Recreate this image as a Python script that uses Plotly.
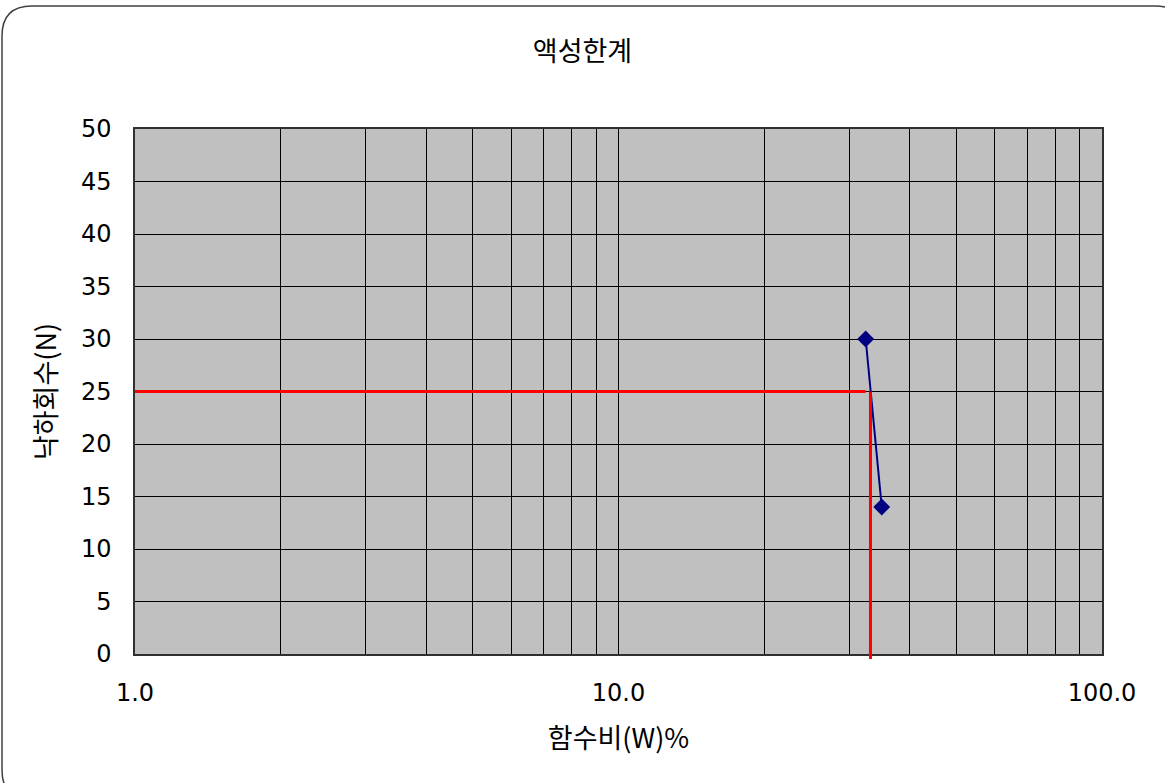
import plotly.graph_objects as go

# Data
water_content = [32.45, 35.03]   # 함수비 W (%)
blow_counts = [30, 14]           # 낙하회수 N
target_blows = 25
liquid_limit = 33.2
x_range_start = 1.0

x_tick_vals = [1, 10, 100]
x_tick_text = ["1.0", "10.0", "100.0"]
x_minor_vals = [2, 3, 4, 5, 6, 7, 8, 9, 20, 30, 40, 50, 60, 70, 80, 90]
y_tick_vals = list(range(0, 51, 5))

NUM_FONT = "DejaVu Sans, Liberation Sans, sans-serif"
KR_FONT = "Noto Sans CJK KR, sans-serif"

fig = go.Figure()

# Red reference horizontal line at N = 25
fig.add_trace(go.Scatter(
    x=[x_range_start, water_content[0]], y=[target_blows, target_blows],
    mode="lines", line=dict(color="#FF0000", width=3), showlegend=False,
    hoverinfo="skip"))

# Data series
fig.add_trace(go.Scatter(
    x=water_content, y=blow_counts, mode="lines+markers",
    line=dict(color="#000080", width=2),
    marker=dict(symbol="diamond", size=13, color="#000080"),
    showlegend=False))

L, R, T, B = 135, 63, 129, 129
W, H = 1165, 783
pw, ph = W - L - R, H - T - B

def px_to_paper(px, py):
    return (px - L) / pw, (H - B - py) / ph

# rounded outer border
x0, y0 = px_to_paper(2, 6)
x1, y1 = px_to_paper(1185, 800)
rx, ry = 30 / pw, 30 / ph
path = (f"M {x0+rx},{y0} L {x1-rx},{y0} Q {x1},{y0} {x1},{y0-ry} "
        f"L {x1},{y1+ry} Q {x1},{y1} {x1-rx},{y1} L {x0+rx},{y1} "
        f"Q {x0},{y1} {x0},{y1+ry} L {x0},{y0-ry} Q {x0},{y0} {x0+rx},{y0} Z")

fig.update_layout(
    width=W, height=H,
    margin=dict(l=L, r=R, t=T, b=B),
    paper_bgcolor="white", plot_bgcolor="#C0C0C0",
    font=dict(family=NUM_FONT, size=24, color="black"),
    title=dict(text="액성한계", x=0.5, xanchor="center", y=1 - 52 / H, yanchor="middle",
               font=dict(family=KR_FONT, size=27, color="black")),
    shapes=[
        dict(type="path", xref="paper", yref="paper", path=path,
             line=dict(color="#404040", width=1.5), fillcolor="rgba(0,0,0,0)", layer="below"),
        dict(type="line", xref="x", yref="paper", x0=liquid_limit, x1=liquid_limit,
             y0=-5 / ph, y1=target_blows / 50, line=dict(color="#FF0000", width=3)),
    ],
)

fig.update_xaxes(
    type="log", range=[0, 2],
    tickvals=x_tick_vals, ticktext=x_tick_text,
    showgrid=True, gridcolor="black", gridwidth=1,
    minor=dict(tickvals=x_minor_vals, showgrid=True, gridcolor="black", gridwidth=1, ticks=""),
    showline=True, linecolor="#303030", linewidth=1.5, mirror=True,
    ticks="", ticklabelstandoff=16,
    tickfont=dict(family=NUM_FONT, size=24),
    title=dict(text="함수비(W)%", standoff=24,
               font=dict(family=KR_FONT, size=27)),
    zeroline=False,
)
fig.update_yaxes(
    range=[0, 50], tickvals=y_tick_vals,
    showgrid=True, gridcolor="black", gridwidth=1,
    showline=True, linecolor="#303030", linewidth=1.5, mirror=True,
    ticks="", ticklabelstandoff=17,
    tickfont=dict(family=NUM_FONT, size=24),
    title=dict(text="낙하회수(N)", standoff=16,
               font=dict(family=KR_FONT, size=27)),
    zeroline=False,
)

fig.write_html("out.html", config={"displayModeBar": False},
               post_script="document.body.style.margin='0px';")
